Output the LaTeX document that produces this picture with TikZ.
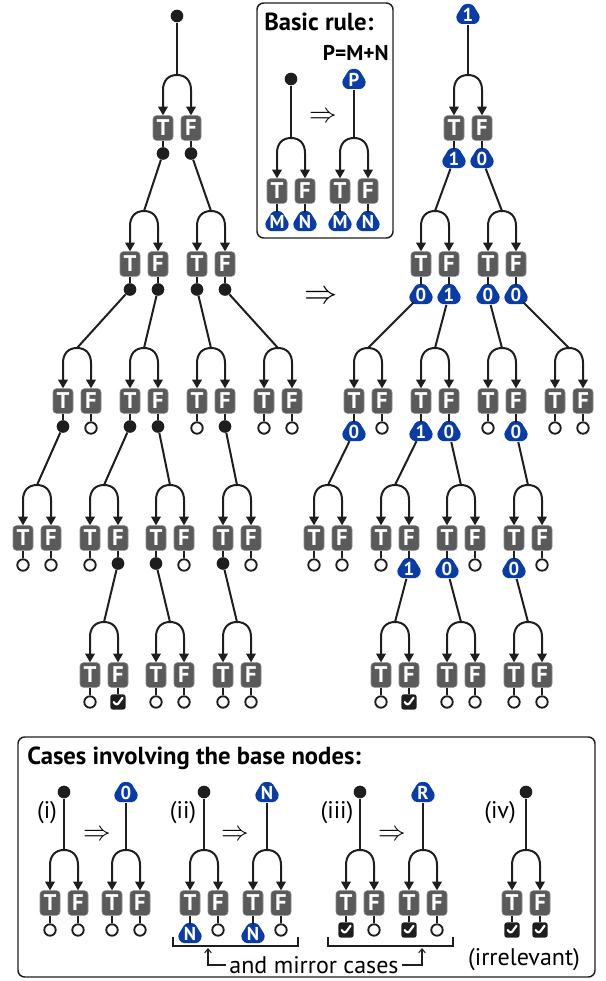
\documentclass[tikz,border=0pt]{standalone}
\usepackage{fontspec}
\setmainfont{PT Sans}
\usetikzlibrary{arrows.meta,calc,positioning}

\definecolor{boxgray}{HTML}{5A5A5A}
\definecolor{valblue}{HTML}{0A3CA8}
\definecolor{ink}{HTML}{1E1E1E}

\tikzset{
  wire/.style={draw=ink, line width=1.5pt},
  stub/.style={draw=ink, line width=1.3pt},
  arrowed/.style={-{Triangle[length=6.5pt,width=7pt]}},
  tfbox/.style={rectangle, rounded corners=2.5pt, fill=boxgray, draw=boxgray!70!white,
    line width=0.4pt, text=white, minimum width=15pt, minimum height=18.5pt,
    inner sep=0pt, font=\fontsize{17}{17}\selectfont\bfseries},
  hitdot/.style={circle, fill=ink, minimum size=9.5pt, inner sep=0pt},
  missdot/.style={circle, draw=ink, fill=white, line width=1.4pt, minimum size=8.6pt, inner sep=0pt},
  donebox/.style={rectangle, rounded corners=2pt, fill=ink, minimum size=11.5pt, inner sep=0pt,
    path picture={\draw[white, line width=1.6pt, line cap=round, line join=round]
      ([shift={(-3.2pt,0pt)}]path picture bounding box.center)
      -- ([shift={(-1pt,-2.8pt)}]path picture bounding box.center)
      -- ([shift={(3.4pt,3.2pt)}]path picture bounding box.center);}},
  valtext/.style={circle, minimum size=15pt, inner sep=0pt, text=white,
    font=\fontsize{14}{14}\selectfont\bfseries},
  panel/.style={draw=ink, line width=1.1pt, rounded corners=5pt},
  heading/.style={anchor=west, inner sep=0pt, font=\fontsize{18.5}{18.5}\selectfont\bfseries},
  caselabel/.style={inner sep=0pt, font=\fontsize{18}{18}\selectfont},
  bracketline/.style={draw=ink, line width=0.8pt},
}

% a T/F pair hanging from one split point: name, x, y of the boxes
\newcommand{\tfpair}[3]{%
  \node[tfbox] (#1t) at (#2-14,#3) {T};
  \node[tfbox] (#1f) at (#2+14,#3) {F};
  \coordinate (#1) at (#2,#3-53);
  \draw[wire,arrowed] (#1) .. controls (#2-9,#3-53) and (#2-14,#3-47) .. (#2-14,#3-38) -- (#1t);
  \draw[wire,arrowed] (#1) .. controls (#2+9,#3-53) and (#2+14,#3-47) .. (#2+14,#3-38) -- (#1f);
}
% what hangs under a box
\newcommand{\hit}[1]{\node[hitdot] (#1-d) at ($(#1)+(0,25.5)$) {}; \draw[stub] (#1) -- (#1-d);}
\newcommand{\miss}[1]{\node[missdot] (#1-d) at ($(#1)+(0,27)$) {}; \draw[stub] (#1) -- (#1-d);}
\newcommand{\done}[1]{\node[donebox] (#1-d) at ($(#1)+(0,27)$) {}; \draw[stub] (#1) -- (#1-d);}
% blue count badge: name, coordinate, text
\newcommand{\badge}[3]{%
  \fill[valblue, rounded corners=2.2pt] ($(#2)+(-4.5,-10)$) -- ($(#2)+(4.5,-10)$) -- ($(#2)+(12.5,3)$)
    -- ($(#2)+(9,10)$) -- ($(#2)+(-9,10)$) -- ($(#2)+(-12.5,3)$) -- cycle;
  \node[valtext] (#1) at ($(#2)+(0,1)$) {#3};}
\newcommand{\val}[2]{\coordinate (#1-c) at ($(#1)+(0,30)$); \badge{#1-d}{#1-c}{#2} \draw[stub] (#1) -- (#1-d);}

\begin{document}
\begin{tikzpicture}[x=0.75pt,y=-0.75pt]
\useasboundingbox (0,0) rectangle (606,981);

% left tree
\node[hitdot] (lroot) at (177,16) {};
\tfpair{lA}{177}{128}
\hit{lAt} \hit{lAf}
\draw[wire] (lroot) -- (lA);

\tfpair{lB1}{144}{264} \tfpair{lB2}{211}{264}
\hit{lB1t} \hit{lB1f} \hit{lB2t} \hit{lB2f}
\draw[wire] (lAt-d) -- (lB1);
\draw[wire] (lAf-d) -- (lB2);

\tfpair{lC1}{77}{401} \tfpair{lC2}{144}{401} \tfpair{lC3}{211}{401} \tfpair{lC4}{278}{401}
\hit{lC1t} \miss{lC1f} \hit{lC2t} \hit{lC2f} \miss{lC3t} \hit{lC3f} \miss{lC4t} \miss{lC4f}
\draw[wire] (lB1t-d) -- (lC1);
\draw[wire] (lB1f-d) -- (lC2);
\draw[wire] (lB2t-d) -- (lC3);
\draw[wire] (lB2f-d) -- (lC4);

\tfpair{lD1}{37}{538} \tfpair{lD2}{104}{538} \tfpair{lD3}{170}{538} \tfpair{lD4}{237}{538}
\miss{lD1t} \miss{lD1f} \miss{lD2t} \hit{lD2f} \hit{lD3t} \miss{lD3f} \hit{lD4t} \miss{lD4f}
\draw[wire] (lC1t-d) -- (lD1);
\draw[wire] (lC2t-d) -- (lD2);
\draw[wire] (lC2f-d) -- (lD3);
\draw[wire] (lC3f-d) -- (lD4);

\tfpair{lE1}{104}{675} \tfpair{lE2}{170}{675} \tfpair{lE3}{237}{675}
\miss{lE1t} \done{lE1f} \miss{lE2t} \miss{lE2f} \miss{lE3t} \miss{lE3f}
\draw[wire] (lD2f-d) -- (lE1);
\draw[wire] (lD3t-d) -- (lE2);
\draw[wire] (lD4t-d) -- (lE3);

\node (maps) at (321,297) {\fontsize{30}{30}\selectfont$\Rightarrow$};

% right tree, counted
\coordinate (rtop) at (468,14);
\badge{rroot}{rtop}{1}
\tfpair{rA}{468}{128}
\val{rAt}{1} \val{rAf}{0}
\draw[wire] (rroot) -- (rA);

\tfpair{rB1}{435}{264} \tfpair{rB2}{502}{264}
\val{rB1t}{0} \val{rB1f}{1} \val{rB2t}{0} \val{rB2f}{0}
\draw[wire] (rAt-d) -- (rB1);
\draw[wire] (rAf-d) -- (rB2);

\tfpair{rC1}{368}{401} \tfpair{rC2}{435}{401} \tfpair{rC3}{502}{401} \tfpair{rC4}{569}{401}
\val{rC1t}{0} \miss{rC1f} \val{rC2t}{1} \val{rC2f}{0} \miss{rC3t} \val{rC3f}{0} \miss{rC4t} \miss{rC4f}
\draw[wire] (rB1t-d) -- (rC1);
\draw[wire] (rB1f-d) -- (rC2);
\draw[wire] (rB2t-d) -- (rC3);
\draw[wire] (rB2f-d) -- (rC4);

\tfpair{rD1}{328}{538} \tfpair{rD2}{395}{538} \tfpair{rD3}{461}{538} \tfpair{rD4}{528}{538}
\miss{rD1t} \miss{rD1f} \miss{rD2t} \val{rD2f}{1} \val{rD3t}{0} \miss{rD3f} \val{rD4t}{0} \miss{rD4f}
\draw[wire] (rC1t-d) -- (rD1);
\draw[wire] (rC2t-d) -- (rD2);
\draw[wire] (rC2f-d) -- (rD3);
\draw[wire] (rC3f-d) -- (rD4);

\tfpair{rE1}{395}{675} \tfpair{rE2}{461}{675} \tfpair{rE3}{528}{675}
\miss{rE1t} \done{rE1f} \miss{rE2t} \miss{rE2f} \miss{rE3t} \miss{rE3f}
\draw[wire] (rD2f-d) -- (rE1);
\draw[wire] (rD3t-d) -- (rE2);
\draw[wire] (rD4t-d) -- (rE3);

% basic rule
\draw[panel] (257,3) rectangle (393,238);
\node[heading] (ruletitle) at (264,22) {Basic rule:};
\node[anchor=east, inner sep=0pt, font=\fontsize{16}{16}\selectfont\bfseries] (rulesum) at (389,53) {P=M+N};
\node[hitdot] (qroot) at (291,79) {};
\tfpair{q}{291}{191}
\draw[wire] (qroot) -- (q);
\val{qt}{M} \val{qf}{N}
\node (ruleto) at (323,117) {\fontsize{20}{20}\selectfont$\Rightarrow$};
\coordinate (ptop) at (354,79);
\badge{proot}{ptop}{P}
\tfpair{p}{354}{191}
\draw[wire] (proot) -- (p);
\val{pt}{M} \val{pf}{N}

% base cases
\draw[panel] (18,737) rectangle (595,977);
\node[heading] (casetitle) at (27,758) {Cases involving the base nodes:};

% (i)
\node[caselabel] (c1lab) at (47,813) {(i)};
\node[hitdot] (c1root) at (64,792) {};
\tfpair{ci}{64}{903}
\draw[wire] (c1root) -- (ci);
\miss{cit} \miss{cif}
\node (c1to) at (97,835) {\fontsize{20}{20}\selectfont$\Rightarrow$};
\coordinate (c1top) at (126,792);
\badge{c1val}{c1top}{0}
\tfpair{cib}{126}{903}
\draw[wire] (c1val) -- (cib);
\miss{cibt} \miss{cibf}

% (ii)
\node[caselabel] (c2lab) at (183,813) {(ii)};
\node[hitdot] (c2root) at (204,792) {};
\tfpair{cii}{204}{903}
\draw[wire] (c2root) -- (cii);
\val{ciit}{N} \miss{ciif}
\node (c2to) at (235,835) {\fontsize{20}{20}\selectfont$\Rightarrow$};
\coordinate (c2top) at (267,792);
\badge{c2val}{c2top}{N}
\tfpair{ciib}{267}{903}
\draw[wire] (c2val) -- (ciib);
\val{ciibt}{N} \miss{ciibf}

% (iii)
\node[caselabel] (c3lab) at (337,813) {(iii)};
\node[hitdot] (c3root) at (360,792) {};
\tfpair{ciii}{360}{903}
\draw[wire] (c3root) -- (ciii);
\done{ciiit} \miss{ciiif}
\node (c3to) at (392,835) {\fontsize{20}{20}\selectfont$\Rightarrow$};
\coordinate (c3top) at (423,792);
\badge{c3val}{c3top}{R}
\tfpair{ciiib}{423}{903}
\draw[wire] (c3val) -- (ciiib);
\done{ciiibt} \miss{ciiibf}

% (iv)
\node[caselabel] (c4lab) at (500,813) {(iv)};
\node[hitdot] (c4root) at (526,792) {};
\tfpair{civ}{526}{903}
\draw[wire] (c4root) -- (civ);
\done{civt} \done{civf}
\node[caselabel] (c4note) at (524,960) {(irrelevant)};

% mirror brackets
\draw[bracketline] (173,937) -- (173,946) -- (298,946) -- (298,937);
\draw[bracketline] (328,937) -- (328,946) -- (453,946) -- (453,937);
\node[caselabel, inner sep=2pt] (mirror) at (314,965) {and mirror cases};
\draw[bracketline, -{Straight Barb[length=3pt,width=5pt]}] (mirror.west) -| (208,948);
\draw[bracketline, -{Straight Barb[length=3pt,width=5pt]}] (mirror.east) -| (422,948);
\end{tikzpicture}
\end{document}
